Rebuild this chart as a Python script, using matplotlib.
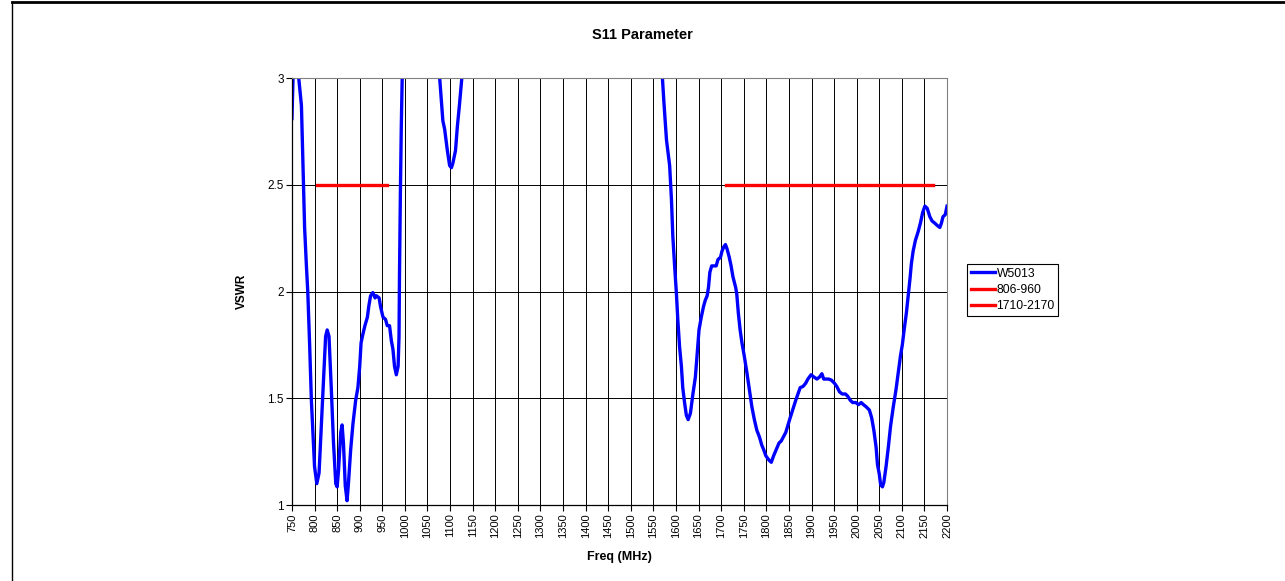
import numpy as np
import matplotlib
matplotlib.use("Agg")
import matplotlib.pyplot as plt
from matplotlib.lines import Line2D

plt.rcParams['font.family'] = ['Liberation Sans', 'DejaVu Sans']

# measured VSWR of W5013 (values above 3 are off-scale estimates)
freq = [750, 753, 759, 765, 771, 774, 778, 782, 785, 789, 793, 796.5, 800, 805, 810,
        815, 820, 824.5, 828, 832, 837, 842, 847, 850, 853, 858, 861, 864, 868, 872,
        875, 880, 885, 891, 896, 900, 903, 907, 911.5, 917, 920, 924, 929, 934, 937,
        943, 946, 951.5, 957, 961, 966, 970, 973.5, 977, 981, 985, 987, 988, 990, 992,
        994, 1000, 1040, 1070, 1077, 1084, 1088, 1094, 1099, 1103, 1106, 1112, 1116,
        1121, 1126, 1140, 1250, 1400, 1530, 1565, 1570, 1573.5, 1579, 1582, 1586, 1590,
        1593, 1597, 1601, 1604, 1608, 1612, 1615, 1619, 1623, 1627, 1632, 1637.5, 1643,
        1647, 1651, 1656, 1661, 1665, 1669, 1672, 1675, 1679, 1683, 1689, 1693, 1698.5,
        1702, 1706, 1709.5, 1713, 1718, 1722, 1726, 1732, 1734.5, 1738, 1742, 1746,
        1751, 1757, 1762.5, 1768, 1773.5, 1779, 1784.5, 1790, 1794, 1799, 1806, 1811,
        1816, 1822, 1828, 1833, 1838, 1843, 1848, 1853, 1859, 1865, 1870, 1875, 1881,
        1887, 1892, 1899, 1905, 1912, 1918, 1923, 1927, 1932, 1938, 1944, 1951, 1956,
        1962, 1968, 1975, 1980, 1986, 1991, 1998, 2004, 2010, 2015, 2021, 2028, 2033,
        2038, 2043, 2046, 2050, 2053, 2057, 2060, 2065, 2070, 2075, 2081, 2087, 2092,
        2097, 2101, 2105, 2110, 2114, 2118, 2121, 2125, 2130, 2136, 2141, 2146, 2151,
        2156, 2162, 2167, 2173, 2178, 2184, 2187.5, 2191, 2196, 2199, 2200]
vswr = [2.81, 3.05, 3.15, 3.00, 2.87, 2.62, 2.30, 2.12, 2.00, 1.76, 1.49, 1.34, 1.18, 1.10, 1.15,
        1.37, 1.60, 1.79, 1.82, 1.79, 1.55, 1.29, 1.10, 1.085, 1.16, 1.34, 1.375, 1.29, 1.09, 1.02,
        1.10, 1.26, 1.38, 1.49, 1.55, 1.65, 1.76, 1.80, 1.84, 1.88, 1.93, 1.98, 1.995, 1.97, 1.98,
        1.97, 1.93, 1.88, 1.87, 1.84, 1.84, 1.77, 1.73, 1.65, 1.61, 1.65, 1.79, 2.07, 2.46, 2.77,
        3.00, 3.35, 3.70, 3.15, 3.00, 2.80, 2.76, 2.66, 2.59, 2.58, 2.60, 2.66, 2.77,
        2.88, 3.00, 3.40, 4.50, 4.60, 3.80, 3.05, 3.00, 2.88, 2.71, 2.66, 2.59, 2.43,
        2.26, 2.12, 1.99, 1.87, 1.74, 1.65, 1.55, 1.48, 1.42, 1.40, 1.43, 1.52, 1.60,
        1.71, 1.82, 1.88, 1.93, 1.96, 1.98, 2.02, 2.09, 2.12, 2.12, 2.12, 2.15, 2.16,
        2.19, 2.21, 2.22, 2.20, 2.16, 2.12, 2.07, 2.02, 1.99, 1.90, 1.82, 1.76,
        1.70, 1.62, 1.54, 1.46, 1.40, 1.35, 1.32, 1.28, 1.26, 1.23, 1.21, 1.20,
        1.23, 1.26, 1.29, 1.30, 1.32, 1.34, 1.375, 1.41, 1.45, 1.49, 1.52, 1.55, 1.555,
        1.57, 1.59, 1.61, 1.60, 1.59, 1.60, 1.615, 1.59, 1.59, 1.59, 1.585, 1.57, 1.555,
        1.53, 1.52, 1.52, 1.51, 1.49, 1.48, 1.48, 1.47, 1.48, 1.47, 1.46, 1.445, 1.41,
        1.35, 1.27, 1.19, 1.145, 1.095, 1.085, 1.105, 1.18, 1.27, 1.37, 1.46, 1.54, 1.62,
        1.70, 1.75, 1.82, 1.90, 1.98, 2.06, 2.13, 2.19, 2.24, 2.28, 2.32, 2.37, 2.40,
        2.39, 2.35, 2.33, 2.32, 2.31, 2.30, 2.32, 2.35, 2.36, 2.39, 2.40]

band_low = [806, 960]
band_high = [1710, 2170]
band_level = 2.5

x_ticks = list(range(750, 2201, 50))
y_ticks = [1, 1.5, 2, 2.5, 3]
y_labels = ["1", "1.5", "2", "2.5", "3"]

fig = plt.figure(figsize=(12.85, 5.81), dpi=100)
ax = fig.add_axes([0.2272, 0.1308, 0.737 - 0.2272, 0.8657 - 0.1308])

ax.plot(freq, vswr, color="#0000ff", lw=2.4, label="W5013", solid_joinstyle="round")
ax.plot(band_low, [band_level] * 2, color="#ff0000", lw=2.4, label="806-960")
ax.plot(band_high, [band_level] * 2, color="#ff0000", lw=2.4, label="1710-2170")

ax.set_xlim(750, 2200)
ax.set_ylim(1, 3)
ax.set_xticks(x_ticks)
ax.set_xticklabels([str(t) for t in x_ticks], rotation=90, fontsize=8)
ax.set_yticks(y_ticks)
ax.set_yticklabels(y_labels, fontsize=8.5)
ax.tick_params(direction="out", length=4, width=0.8, pad=2)
ax.grid(True, color="black", lw=0.7)
ax.set_axisbelow(True)
for s in ["top", "right"]:
    ax.spines[s].set_color("#808080")
    ax.spines[s].set_linewidth(0.8)
for s in ["left", "bottom"]:
    ax.spines[s].set_linewidth(0.9)

ax.set_xlabel("Freq (MHz)", fontsize=9, fontweight="bold", labelpad=9)
ax.set_ylabel("VSWR", fontsize=8.5, fontweight="bold", labelpad=14)
fig.text(0.5, 0.94, "S11 Parameter", ha="center", va="center", fontsize=10.5, fontweight="bold")

leg = fig.legend(loc="upper left", bbox_to_anchor=(0.7525, 0.5456), fontsize=8.7,
                 fancybox=False, edgecolor="black", framealpha=1, handlelength=2.0,
                 handletextpad=0.15, borderpad=0.3, labelspacing=0.35, borderaxespad=0)
leg.get_frame().set_linewidth(0.8)

# chart frame (top and left edges visible)
fig.add_artist(Line2D([0.0093, 1], [0.996, 0.996], color="black", lw=2.0, transform=fig.transFigure))
fig.add_artist(Line2D([0.0093, 0.0093], [0, 0.996], color="black", lw=1.0, transform=fig.transFigure))

fig.savefig("out.png", dpi=100)
